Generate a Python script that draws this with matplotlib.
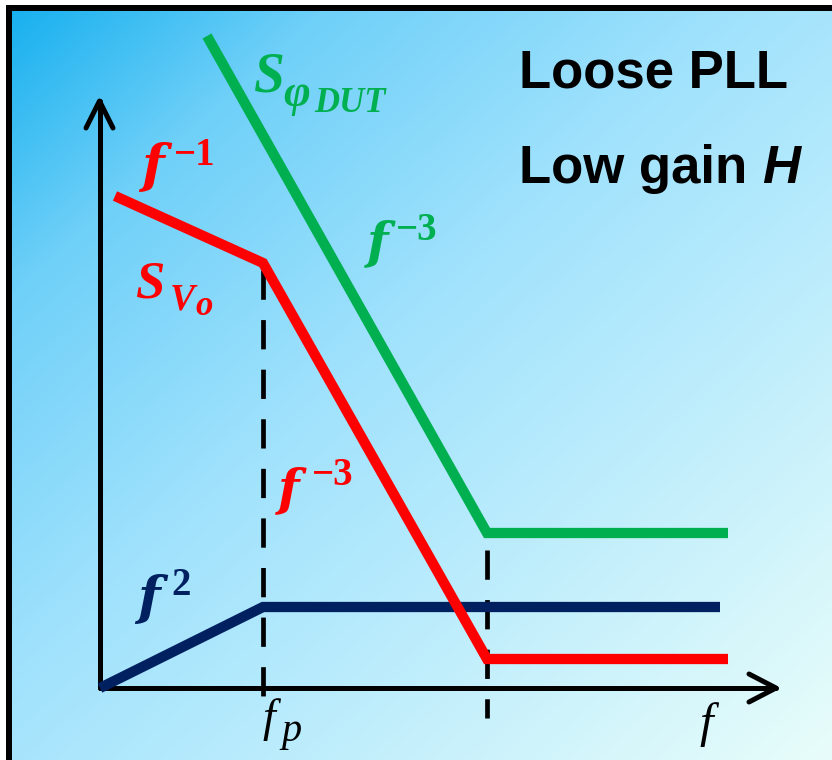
import numpy as np
import matplotlib
matplotlib.use("Agg")
import matplotlib.pyplot as plt
from matplotlib.patches import Rectangle

W, H = 832, 760

# Breakpoints of the asymptotic sketch (canvas units, y grows downward)
origin = (100, 688)
f_p = 263          # pole frequency
f_c = 487          # corner where the DUT noise flattens

red_x = [115, f_p, f_c, 728]
red_y = [196, 263, 659, 659]

green_x = [207, f_c, 728]
green_y = [36, 533, 533]

navy_x = [100, f_p, 720]
navy_y = [688, 607, 607]

RED = "#FF0000"
GREEN = "#00B050"
NAVY = "#002060"

fig = plt.figure(figsize=(W / 100, H / 100), dpi=100)
ax = fig.add_axes([0, 0, 1, 1])
ax.set_xlim(0, W)
ax.set_ylim(H, 0)
ax.axis("off")

# diagonal background gradient
xx, yy = np.meshgrid(np.linspace(0, 1, 400), np.linspace(0, 1, 400))
t = (xx + yy) / 2
stops = np.array([0.0, 0.2, 0.45, 0.7, 1.0])
cols = np.array([
    [18, 174, 238],
    [111, 208, 248],
    [160, 226, 253],
    [192, 238, 252],
    [232, 253, 250],
]) / 255.0
img = np.stack([np.interp(t, stops, cols[:, k]) for k in range(3)], axis=-1)
ax.imshow(img, extent=(0, W, H, 0), zorder=0, aspect="auto", interpolation="bilinear")

# white margin + black frame on top/left
frame_kw = dict(linewidth=0, zorder=1)
ax.add_patch(Rectangle((0, 0), W, 5, facecolor="white", **frame_kw))
ax.add_patch(Rectangle((0, 0), 6, H, facecolor="white", **frame_kw))
ax.add_patch(Rectangle((6, 5), W - 6, 5.5, facecolor="black", **frame_kw))
ax.add_patch(Rectangle((6, 5), 5.5, H - 5, facecolor="black", **frame_kw))

# axes with open arrow heads
axis_kw = dict(color="black", lw=3.6, solid_capstyle="round", solid_joinstyle="round", zorder=3)
ax.plot([origin[0], origin[0]], [origin[1], 101], **axis_kw)
ax.plot([86, 99.5, 113], [128, 101, 128], **axis_kw)
ax.plot([origin[0], 776], [origin[1], origin[1]], **axis_kw)
ax.plot([749, 776, 749], [674, 688, 702], **axis_kw)

# dashed guides at the breakpoints
dash_kw = dict(color="black", lw=3.4, dashes=(6.2, 4.3), zorder=2)
ax.plot([f_p, f_p], [270, 697], **dash_kw)
ax.plot([f_c, f_c], [550, 718], **dash_kw)

line_kw = dict(lw=7.4, solid_capstyle="butt", solid_joinstyle="miter", zorder=4)
ax.plot(navy_x, navy_y, color=NAVY, **line_kw)
ax.plot(green_x, green_y, color=GREEN, **line_kw)
ax.plot(red_x, red_y, color=RED, **line_kw)

SERIF = "Liberation Serif"
FSERIF = "DejaVu Serif"


def label(x, y, s, color, size, italic=True, bold=True, family=SERIF):
    ax.text(x, y, s, color=color, fontsize=size, family=family,
            fontweight="bold" if bold else "normal",
            fontstyle="italic" if italic else "normal",
            ha="left", va="baseline", zorder=5)


# slope annotations: italic f with an upright exponent
label(141, 182, "f", RED, 38, family=FSERIF)
label(174, 165, "\u22121", RED, 28, italic=False)

label(367, 257, "f", GREEN, 36, family=FSERIF)
label(396, 240, "\u22123", GREEN, 28, italic=False)

label(278, 504, "f", RED, 36, family=FSERIF)
label(312, 485, "\u22123", RED, 28, italic=False)

label(137, 614, "f", NAVY, 38, family=FSERIF)
label(171, 595, "2", NAVY, 28, italic=False)

# spectral density names
label(135, 298, "S", RED, 38)
label(170, 310, "V", RED, 27)
label(195, 315, "o", RED, 25)

label(254, 92, "S", GREEN, 40)
label(283, 106, "\u03c6", GREEN, 33)
label(314, 112, "DUT", GREEN, 25)

# frequency axis labels
label(262, 731, "f", "black", 33, bold=False)
label(281, 741, "p", "black", 29, bold=False)
label(699, 737, "f", "black", 35, bold=False)

ax.text(519, 88, "Loose PLL", fontsize=38, fontweight="bold",
        family="Liberation Sans", color="black", zorder=5)
t1 = ax.text(519, 183, "Low gain ", fontsize=38, fontweight="bold",
             family="Liberation Sans", color="black", zorder=5)
fig.canvas.draw()
bb = t1.get_window_extent()
x_end = ax.transData.inverted().transform((bb.x1, bb.y0))[0]
ax.text(x_end, 183, "H", fontsize=38, fontweight="bold", fontstyle="italic",
        family="Liberation Sans", color="black", zorder=5)

fig.savefig("out.png", dpi=100)
